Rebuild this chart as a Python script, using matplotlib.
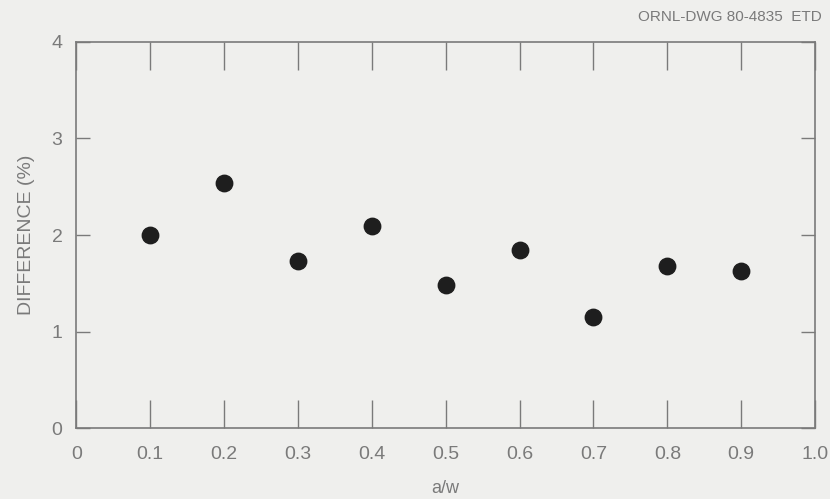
import numpy as np
import matplotlib
matplotlib.use("Agg")
import matplotlib.pyplot as plt

plt.rcParams['font.family'] = ['Liberation Sans', 'DejaVu Sans']

# data
a_w = [0.1, 0.2, 0.3, 0.4, 0.5, 0.6, 0.7, 0.8, 0.9]
diff = [2.00, 2.54, 1.73, 2.09, 1.48, 1.85, 1.15, 1.68, 1.63]
xticks = [0, 0.1, 0.2, 0.3, 0.4, 0.5, 0.6, 0.7, 0.8, 0.9, 1.0]
xlabels = ['0', '0.1', '0.2', '0.3', '0.4', '0.5', '0.6', '0.7', '0.8', '0.9', '1.0']
yticks = [0, 1, 2, 3, 4]

bg = '#efefed'
ink = '#7a7a7a'

fig = plt.figure(figsize=(8.3, 4.99), dpi=100, facecolor=bg)
ax = fig.add_axes([0.092, 0.142, 0.89, 0.774], facecolor=bg)

ax.scatter(a_w, diff, s=140, color='#1e1e1e', zorder=3)

ax.set_xlim(0, 1.0)
ax.set_ylim(0, 4)
ax.set_xticks(xticks)
ax.set_xticklabels(xlabels)
ax.set_yticks(yticks)

ax.tick_params(axis='x', direction='in', length=20, width=1, color=ink,
               top=True, labelcolor=ink, labelsize=14, pad=13)
ax.tick_params(axis='y', direction='in', length=10, width=1, color=ink,
               right=True, labelcolor=ink, labelsize=14, pad=10)
for s in ax.spines.values():
    s.set_color(ink)
    s.set_linewidth(1.2)

ax.set_xlabel('a/w', color=ink, fontsize=13, labelpad=12)
ax.set_ylabel('DIFFERENCE (%)', color=ink, fontsize=14, labelpad=12)
fig.text(0.99, 0.965, 'ORNL-DWG 80-4835  ETD', ha='right', va='center',
         color=ink, fontsize=11)

fig.savefig('out.png', dpi=100, facecolor=bg)
